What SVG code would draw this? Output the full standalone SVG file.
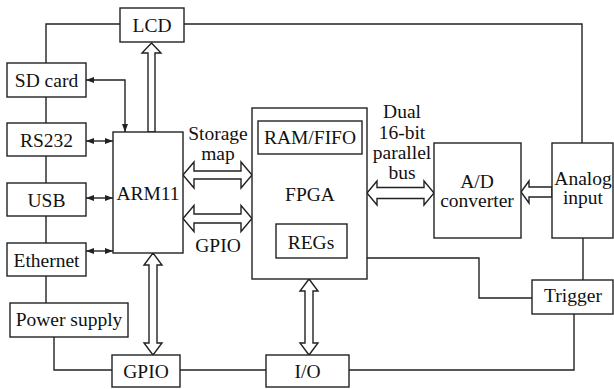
<svg xmlns="http://www.w3.org/2000/svg" width="614" height="389" viewBox="0 0 614 389" font-family="'Liberation Serif', 'DejaVu Serif', serif">
<defs>
<style>
.box{fill:#fff;stroke:#222;stroke-width:1.4}
.ln{fill:none;stroke:#222;stroke-width:1.4}
.ha{fill:#fff;stroke:#222;stroke-width:1.4;stroke-linejoin:miter}
text{font-family:'Liberation Serif','DejaVu Serif',serif;font-size:19.5px;fill:#111;text-anchor:middle}
</style>
<marker id="ah" viewBox="0 0 8 6" refX="8" refY="3" markerWidth="8" markerHeight="6" markerUnits="userSpaceOnUse" orient="auto-start-reverse">
<path d="M0,0 L8,3 L0,6 z" fill="#222"/>
</marker>
</defs>
<rect width="614" height="389" fill="#fff"/>
<g id="connectors">
<path class="ln" d="M120,24 H46 V63"/>
<path class="ln" d="M184,24 H582 V143"/>
<path class="ln" d="M46,97 V123 M46,156 V183 M46,216 V243 M46,276 V303"/>
<path class="ln" d="M54,337 V370 H112"/>
<path class="ln" d="M180,370 H266"/>
<path class="ln" d="M349,370 H574 V314"/>
<path class="ln" d="M583,238 V280"/>
<path class="ln" d="M367,258 H479 V298 H532"/>
<path class="ln" d="M86,80 H125 V132" marker-start="url(#ah)" marker-end="url(#ah)"/>
<path class="ln" d="M86,141 H113" marker-start="url(#ah)" marker-end="url(#ah)"/>
<path class="ln" d="M86,198 H113" marker-start="url(#ah)" marker-end="url(#ah)"/>
<path class="ln" d="M86,251 H113" marker-start="url(#ah)" marker-end="url(#ah)"/>
<polygon class="ha" points="151.5,43 161,53 155,53 155,132 148,132 148,53 142,53"/>
<polygon class="ha" points="183,175 194,162 194,171 241,171 241,162 252,175 241,188 241,179 194,179 194,188"/>
<polygon class="ha" points="183,218.5 194,205.5 194,214 241,214 241,205.5 252,218.5 241,231.5 241,223 194,223 194,231.5"/>
<polygon class="ha" points="367,193 377,181 377,187.5 424,187.5 424,181 434,193 424,205 424,198.5 377,198.5 377,205"/>
<polygon class="ha" points="521,192 529,181 529,187 552,187 552,197 529,197 529,203"/>
<polygon class="ha" points="153,253 162,265 157,265 157,343 162,343 153,355 144,343 149,343 149,265 144,265"/>
<polygon class="ha" points="309,279 318,291 313,291 313,343 318,343 309,355 300,343 305,343 305,291 300,291"/>
</g>
<g id="lcd"><rect class="box" x="120" y="8" width="64" height="34"/><text x="152" y="32">LCD</text></g>
<g id="sdcard"><rect class="box" x="7" y="63" width="79" height="34"/><text x="46.5" y="87">SD card</text></g>
<g id="rs232"><rect class="box" x="7" y="123" width="79" height="33"/><text x="46.5" y="147">RS232</text></g>
<g id="usb"><rect class="box" x="7" y="183" width="79" height="33"/><text x="46.5" y="207">USB</text></g>
<g id="ethernet"><rect class="box" x="7" y="243" width="79" height="33"/><text x="46.5" y="267">Ethernet</text></g>
<g id="power"><rect class="box" x="10" y="303" width="118" height="34"/><text x="69" y="326">Power supply</text></g>
<g id="gpio"><rect class="box" x="112" y="355" width="68" height="32"/><text x="146" y="378">GPIO</text></g>
<g id="io"><rect class="box" x="266" y="355" width="83" height="32"/><text x="307.5" y="378">I/O</text></g>
<g id="arm11"><rect class="box" x="113" y="132" width="70" height="121"/><text x="148" y="200">ARM11</text></g>
<g id="fpga">
<rect class="box" x="252" y="108" width="115" height="171"/>
<rect class="box" x="258" y="121" width="104" height="33"/>
<text x="310" y="144">RAM/FIFO</text>
<text x="310" y="201">FPGA</text>
<rect class="box" x="276" y="224" width="71" height="34"/>
<text x="311" y="249">REGs</text>
</g>
<g id="adc"><rect class="box" x="434" y="143" width="87" height="95"/><text x="477" y="188">A/D</text><text x="477" y="207">converter</text></g>
<g id="analog"><rect class="box" x="552" y="143" width="61" height="95"/><text x="583" y="185">Analog</text><text x="583" y="204">input</text></g>
<g id="trigger"><rect class="box" x="532" y="280" width="81" height="34"/><text x="573" y="302">Trigger</text></g>
<g id="labels">
<text x="218" y="140">Storage</text>
<text x="218" y="159.5">map</text>
<text x="218" y="252">GPIO</text>
<text x="402" y="118">Dual</text>
<text x="402" y="139">16-bit</text>
<text x="402" y="159">parallel</text>
<text x="402" y="179">bus</text>
</g>
</svg>
